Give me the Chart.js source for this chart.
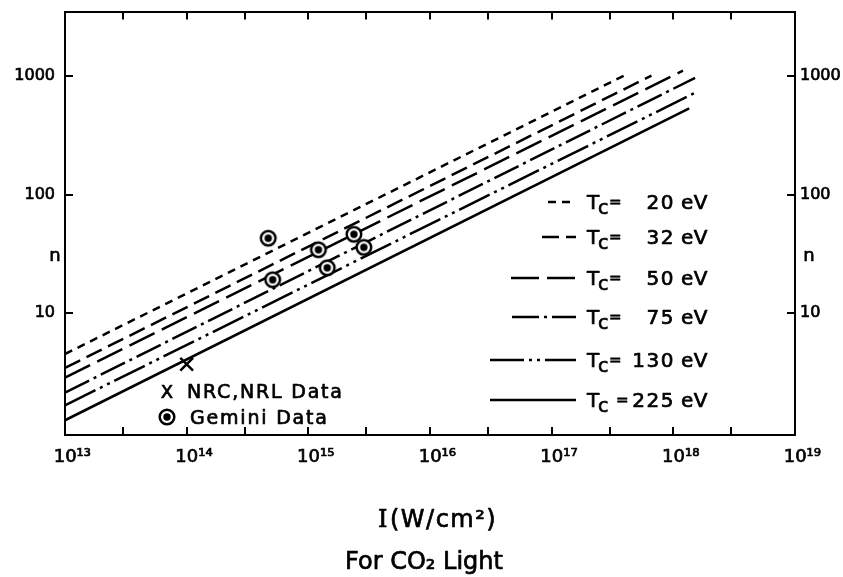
<!DOCTYPE html>
<html><head><meta charset="utf-8">
<script src="https://cdn.jsdelivr.net/npm/chart.js@4.4.0/dist/chart.umd.min.js"></script>
<style>html,body{margin:0;padding:0;background:#fff;}#wrap{width:843px;height:577px;}</style>
</head><body><div id="wrap"><canvas id="c" width="843" height="577"></canvas></div>
<script>
// ---- data ----
const temperatures = [20, 32, 50, 75, 130, 225];           // Tc (eV)
const lineStartI = [1e13, 1e13, 1e13, 1e13, 1e13, 1e13];    // W/cm^2
const lineStartN = [4.53, 3.46, 2.86, 2.14, 1.67, 1.25];
const lineEndI   = [3.98e17, 6.61e17, 1.20e18, 1.51e18, 1.51e18, 1.35e18];
const lineEndN   = [1019, 1014, 1116, 970, 727, 535];
const geminiI = [4.68e14, 5.09e14, 1.21e15, 1.43e15, 2.37e15, 2.86e15];
const geminiN = [43.0, 19.2, 34.4, 24.2, 46.4, 36.0];
const nrcI = [1.0e14];
const nrcN = [3.72];
const xTickValues = [1e13,3e13,1e14,3e14,1e15,3e15,1e16,3e16,1e17,3e17,1e18,3e18,1e19];
const xTickLabels = ['10¹³','','10¹⁴','','10¹⁵','','10¹⁶','','10¹⁷','','10¹⁸','','10¹⁹'];
const yTickValues = [10, 100, 1000];
const yTickLabels = ['10', '100', '1000'];

// ---- styles ----
const dashes = [[8,6],[17,7],[28,8],[27,5,3,5],[34,5,3,5,3,5],[]];
const FONT = '"DejaVu Sans", sans-serif';
Chart.defaults.font.family = FONT;
Chart.defaults.color = '#000';

function makeRing(){
  const c = document.createElement('canvas'); c.width = 20; c.height = 20;
  const g = c.getContext('2d');
  g.fillStyle = '#fff'; g.beginPath(); g.arc(10,10,7.5,0,Math.PI*2); g.fill();
  g.strokeStyle = '#000'; g.lineWidth = 2.5;
  g.beginPath(); g.arc(10,10,7.3,0,Math.PI*2); g.stroke();
  g.fillStyle = '#000'; g.beginPath(); g.arc(10,10,3.7,0,Math.PI*2); g.fill();
  return c;
}
const ring = makeRing();

const lineSets = temperatures.map((t,i)=>({
  label: 'Tc = ' + t + ' eV',
  showLine: true,
  data: [{x: lineStartI[i], y: lineStartN[i]}, {x: lineEndI[i], y: lineEndN[i]}],
  borderColor: '#000', borderWidth: 2.5, borderDash: dashes[i],
  pointRadius: 0, fill: false, tension: 0, order: 1
}));
const pointSets = [
  { label: 'Gemini Data', data: geminiI.map((v,i)=>({x:v, y:geminiN[i]})),
    pointStyle: ring, pointRadius: 9, order: 0 },
  { label: 'NRC,NRL Data', data: nrcI.map((v,i)=>({x:v, y:nrcN[i]})),
    pointStyle: 'crossRot', pointRadius: 9, borderWidth: 2.5, borderColor: '#000', order: 0 }
];

const Y_MIN = Math.pow(10, -0.0275), Y_MAX = Math.pow(10, 3.547);
function axisCommon(extra){
  return Object.assign({
    type: 'logarithmic',
    border: {display: true, color: '#000', width: 2},
    grid: {drawOnChartArea: false, drawTicks: true, tickLength: -8, color: '#000', lineWidth: 2}
  }, extra);
}
const xTicksBuild = s => { s.ticks = xTickValues.map(v=>({value:v})); };
const yTicksBuild = s => { s.ticks = yTickValues.map(v=>({value:v})); };
const noPad = s => { s.paddingTop = 0; s.paddingBottom = 0; s.paddingLeft = 0; s.paddingRight = 0; };

function txt(ctx, s, x, y){
  ctx.strokeText(s, x, y);
  ctx.fillText(s, x, y);
}

const textPlugin = {
  id: 'texts',
  afterDraw(chart){
    const ctx = chart.ctx, ys = chart.scales.y;
    ctx.save();
    ctx.fillStyle = '#000'; ctx.strokeStyle = '#000';
    ctx.lineJoin = 'round';
    // n labels
    ctx.lineWidth = 0.7;
    ctx.font = '18px ' + FONT; ctx.textAlign = 'center'; ctx.textBaseline = 'middle';
    const ny = ys.getPixelForValue(30);
    txt(ctx, 'n', 55, ny);
    txt(ctx, 'n', 809, ny);
    // right legend
    const rowY = [202, 237, 278, 317, 360, 400];
    const sx = [548, 542, 511, 512, 490, 490];
    temperatures.forEach((t,i)=>{
      const y = rowY[i];
      ctx.lineWidth = 2.5; ctx.setLineDash(dashes[i]);
      ctx.beginPath(); ctx.moveTo(sx[i], y); ctx.lineTo(576, y); ctx.stroke();
      ctx.setLineDash([]);
      ctx.lineWidth = 0.7;
      ctx.textBaseline = 'alphabetic'; ctx.textAlign = 'left';
      ctx.font = '20px ' + FONT; ctx.letterSpacing = '0px';
      txt(ctx, 'T', 587, y + 7);
      ctx.font = '19px ' + FONT;
      txt(ctx, 'c', 598, y + 12);
      ctx.font = '15px ' + FONT;
      txt(ctx, '=', i === 5 ? 616 : 609, y + 5);
      ctx.font = '20px ' + FONT; ctx.letterSpacing = '1.5px';
      ctx.textAlign = 'right';
      txt(ctx, String(t), 675, y + 7);
      ctx.letterSpacing = '0.5px'; ctx.textAlign = 'left';
      txt(ctx, 'eV', 681, y + 7);
    });
    // lower-left legend
    ctx.letterSpacing = '0px';
    ctx.font = '18px ' + FONT; ctx.textAlign = 'center'; ctx.textBaseline = 'alphabetic';
    txt(ctx, 'X', 167, 398);
    ctx.drawImage(ring, 167 - 10, 417 - 10);
    ctx.font = '19px ' + FONT; ctx.textAlign = 'left'; ctx.letterSpacing = '1.8px';
    txt(ctx, 'NRC,NRL Data', 187, 398);
    txt(ctx, 'Gemini Data', 190, 424);
    // titles
    ctx.letterSpacing = '1.5px';
    ctx.font = '24px "DejaVu Serif", serif';
    txt(ctx, 'I', 378, 527);
    const wI = ctx.measureText('I').width;
    ctx.font = '24px ' + FONT;
    txt(ctx, '(W/cm²)', 378 + wI + 1, 527);
    ctx.letterSpacing = '0px';
    txt(ctx, 'For CO₂ Light', 345, 569);
    ctx.restore();
  }
};

const tickStroke = {textStrokeColor: '#000', textStrokeWidth: 0.7};

new Chart(document.getElementById('c'), {
  type: 'scatter',
  data: { datasets: [...pointSets, ...lineSets] },
  options: {
    responsive: false, animation: false,
    layout: {padding: 0},
    plugins: {legend: {display: false}, tooltip: {enabled: false}},
    scales: {
      x: axisCommon({position: 'bottom', min: 1e13, max: 1e19,
        afterBuildTicks: xTicksBuild,
        afterFit: s => { s.height = 142; noPad(s); },
        ticks: Object.assign({autoSkip: false, maxRotation: 0, minRotation: 0, padding: 20,
          font: {size: 18}, callback: (v, i) => xTickLabels[i] ? '\u2002 ' + xTickLabels[i] : ''}, tickStroke)}),
      x2: axisCommon({position: 'top', axis: 'x', min: 1e13, max: 1e19,
        afterBuildTicks: xTicksBuild,
        afterFit: s => { s.height = 6; noPad(s); },
        ticks: {display: false}}),
      y: axisCommon({position: 'left', min: Y_MIN, max: Y_MAX,
        afterBuildTicks: yTicksBuild,
        afterFit: s => { s.width = 65; noPad(s); },
        ticks: Object.assign({padding: 18, font: {size: 16}, callback: (v, i) => yTickLabels[i]}, tickStroke)}),
      y2: axisCommon({position: 'right', axis: 'y', min: Y_MIN, max: Y_MAX,
        afterBuildTicks: yTicksBuild,
        afterFit: s => { s.width = 48; noPad(s); },
        ticks: Object.assign({padding: 13, font: {size: 16}, callback: (v, i) => yTickLabels[i]}, tickStroke)})
    }
  },
  plugins: [textPlugin]
});
</script></body></html>
